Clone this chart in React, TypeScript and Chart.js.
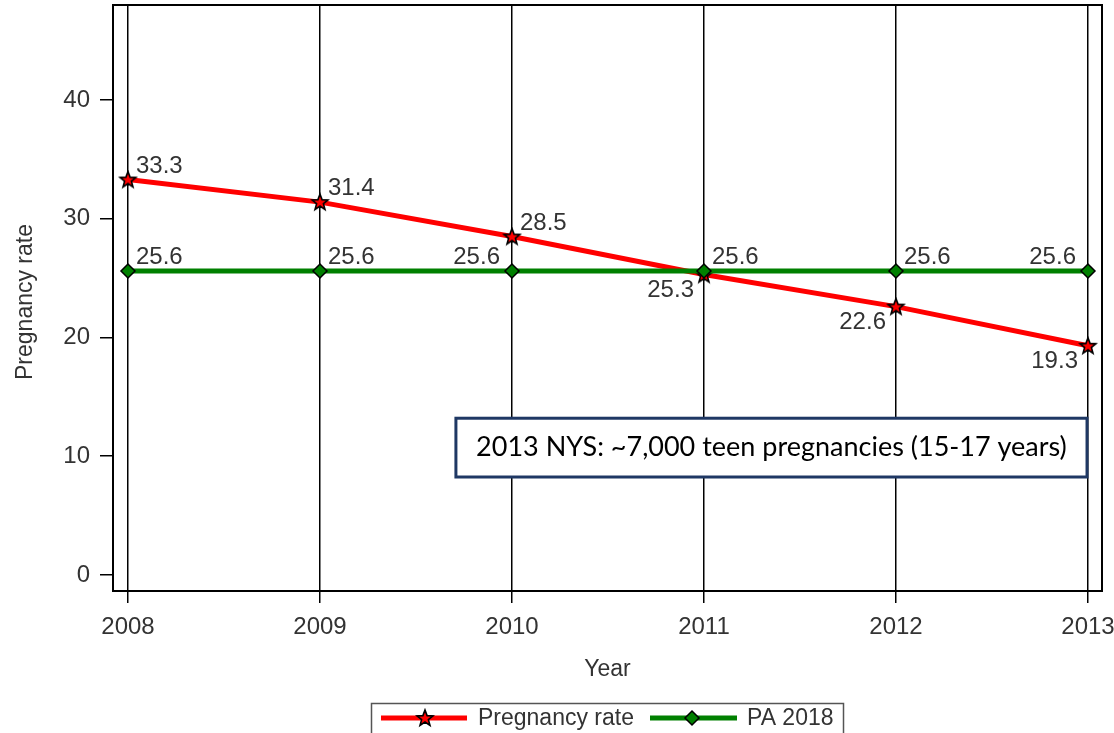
import React, { useEffect, useRef } from "react";
import { Chart, registerables } from "chart.js";

Chart.register(...registerables);

const years = [2008, 2009, 2010, 2011, 2012, 2013];
const pregnancyRate = [33.3, 31.4, 28.5, 25.3, 22.6, 19.3];
const pa2018 = [25.6, 25.6, 25.6, 25.6, 25.6, 25.6];
const yTicks = [0, 10, 20, 30, 40];
const seriesNames = ["Pregnancy rate", "PA 2018"];
const xTitle = "Year";
const yTitle = "Pregnancy rate";
const annotationText = "2013 NYS: ~7,000 teen pregnancies (15-17 years)";

// label anchor sides: ur = upper-right, ul = upper-left, ll = lower-left
const redLabelSide = ["ur", "ur", "ur", "ll", "ll", "ll"];
const greenLabelSide = ["ur", "ur", "ul", "ur", "ur", "ul"];

const RED = "#ff0000";
const GREEN = "#008000";
const FONT = "'Liberation Sans', Arial, sans-serif";
const TEXT = "#333333";
const NUM_SIZE = 24;
const WORD_SIZE = 23;

function makeStar(size: number, fill: string): HTMLCanvasElement {
  const c = document.createElement("canvas");
  c.width = size;
  c.height = size;
  const ctx = c.getContext("2d")!;
  const cx = size / 2, cy = size / 2 + 0.5;
  const R = size / 2 - 1.5, r = R * 0.42;
  ctx.beginPath();
  for (let i = 0; i < 10; i++) {
    const ang = -Math.PI / 2 + (i * Math.PI) / 5;
    const rad = i % 2 === 0 ? R : r;
    const x = cx + rad * Math.cos(ang), y = cy + rad * Math.sin(ang);
    if (i === 0) ctx.moveTo(x, y); else ctx.lineTo(x, y);
  }
  ctx.closePath();
  ctx.fillStyle = fill;
  ctx.fill();
  ctx.lineWidth = 1.6;
  ctx.strokeStyle = "#000";
  ctx.stroke();
  return c;
}

function drawDiamond(ctx: CanvasRenderingContext2D, x: number, y: number, r: number) {
  ctx.beginPath();
  ctx.moveTo(x, y - r);
  ctx.lineTo(x + r, y);
  ctx.lineTo(x, y + r);
  ctx.lineTo(x - r, y);
  ctx.closePath();
  ctx.fillStyle = GREEN;
  ctx.fill();
  ctx.lineWidth = 1.5;
  ctx.strokeStyle = "#000";
  ctx.stroke();
}

export default function App() {
  const ref = useRef<HTMLCanvasElement>(null);

  useEffect(() => {
    const star = makeStar(20, RED);

    const framePlugin = {
      id: "frame",
      beforeDatasetsDraw(chart: any) {
        const { ctx, chartArea: a } = chart;
        ctx.save();
        ctx.strokeStyle = "#000";
        ctx.lineWidth = 2;
        ctx.strokeRect(a.left, a.top, a.right - a.left, a.bottom - a.top);
        ctx.restore();
      },
    };

    const labelsPlugin = {
      id: "valueLabels",
      afterDatasetsDraw(chart: any) {
        const ctx = chart.ctx;
        ctx.save();
        ctx.font = `${NUM_SIZE}px ${FONT}`;
        ctx.fillStyle = TEXT;
        chart.data.datasets.forEach((ds: any, di: number) => {
          const meta = chart.getDatasetMeta(di);
          const sides = ds.label === seriesNames[0] ? redLabelSide : greenLabelSide;
          meta.data.forEach((pt: any, i: number) => {
            const v = ds.data[i].y;
            const txt = v.toFixed(1);
            const side = sides[i];
            ctx.textBaseline = "alphabetic";
            if (side === "ur") {
              ctx.textAlign = "left";
              ctx.fillText(txt, pt.x + 8, pt.y - 7);
            } else if (side === "ul") {
              ctx.textAlign = "right";
              ctx.fillText(txt, pt.x - 12, pt.y - 7);
            } else {
              ctx.textAlign = "right";
              ctx.fillText(txt, pt.x - 10, pt.y + 22);
            }
          });
        });
        ctx.restore();
      },
    };

    const extrasPlugin = {
      id: "extras",
      afterDraw(chart: any) {
        const { ctx, chartArea: a, scales } = chart;
        const xs = scales.x, ys = scales.y;
        ctx.save();
        // annotation box
        const bx1 = xs.getPixelForValue(2009.708);
        const bx2 = xs.getPixelForValue(2012.995);
        const by1 = ys.getPixelForValue(13.2);
        const by2 = ys.getPixelForValue(8.25);
        ctx.fillStyle = "#fff";
        ctx.fillRect(bx1, by1, bx2 - bx1, by2 - by1);
        ctx.strokeStyle = "#1f3864";
        ctx.lineWidth = 3;
        ctx.strokeRect(bx1, by1, bx2 - bx1, by2 - by1);
        ctx.fillStyle = "#000";
        ctx.font = `27px Lato, 'Open Sans', sans-serif`;
        ctx.textAlign = "center";
        ctx.textBaseline = "middle";
        ctx.fillText(annotationText, (bx1 + bx2) / 2, (by1 + by2) / 2);

        // axis titles
        ctx.fillStyle = TEXT;
        ctx.font = `${WORD_SIZE}px ${FONT}`;
        ctx.textAlign = "center";
        ctx.textBaseline = "middle";
        ctx.fillText(xTitle, (a.left + a.right) / 2, 670);
        ctx.save();
        ctx.translate(26, (a.top + a.bottom) / 2 + 4);
        ctx.rotate(-Math.PI / 2);
        ctx.fillText(yTitle, 0, 0);
        ctx.restore();

        // legend
        const ly = 718;
        ctx.strokeStyle = "#555";
        ctx.lineWidth = 1.5;
        ctx.strokeRect(371.5, 703.5, 472, 40);
        ctx.lineWidth = 5;
        ctx.strokeStyle = RED;
        ctx.beginPath();
        ctx.moveTo(381, ly);
        ctx.lineTo(467, ly);
        ctx.stroke();
        ctx.drawImage(star, 425 - 10, ly - 10);
        ctx.strokeStyle = GREEN;
        ctx.beginPath();
        ctx.moveTo(650, ly);
        ctx.lineTo(737, ly);
        ctx.stroke();
        drawDiamond(ctx, 692, ly, 7);
        ctx.fillStyle = TEXT;
        ctx.font = `${WORD_SIZE}px ${FONT}`;
        ctx.textAlign = "left";
        ctx.textBaseline = "middle";
        ctx.fillText(seriesNames[0], 478, ly + 1);
        ctx.fillText(seriesNames[1], 747, ly + 1);
        ctx.restore();
      },
    };

    const chart = new Chart(ref.current!, {
      type: "line",
      data: {
        datasets: [
          {
            label: seriesNames[1],
            data: years.map((x, i) => ({ x, y: pa2018[i] })),
            borderColor: GREEN,
            backgroundColor: GREEN,
            borderWidth: 5,
            pointStyle: "rectRot",
            pointRadius: 7,
            pointBackgroundColor: GREEN,
            pointBorderColor: "#000",
            pointBorderWidth: 1.5,
            tension: 0,
          },
          {
            label: seriesNames[0],
            data: years.map((x, i) => ({ x, y: pregnancyRate[i] })),
            borderColor: RED,
            backgroundColor: RED,
            borderWidth: 5,
            pointStyle: star as any,
            pointRadius: 10,
            tension: 0,
          },
        ],
      },
      options: {
        animation: false,
        responsive: false,
        layout: { autoPadding: false, padding: { top: 5, right: 12, left: 0, bottom: 0 } },
        plugins: { legend: { display: false }, tooltip: { enabled: false } },
        scales: {
          x: {
            type: "linear",
            min: 2007.922,
            max: 2013.073,
            afterBuildTicks: (s: any) => {
              s.ticks = years.map((v) => ({ value: v }));
            },
            afterFit: (s: any) => {
              s.height = 733 - 591;
              s.paddingLeft = 0;
              s.paddingRight = 0;
            },
            border: { display: false },
            grid: {
              color: "#000",
              lineWidth: 1.5,
              drawTicks: true,
              tickLength: 12,
            },
            ticks: {
              color: TEXT,
              font: { family: FONT, size: NUM_SIZE },
              padding: 10,
              callback: (v: any) => String(v),
              maxRotation: 0,
            },
          },
          y: {
            type: "linear",
            min: -1.35,
            max: 48,
            afterBuildTicks: (s: any) => {
              s.ticks = yTicks.map((v) => ({ value: v }));
            },
            afterFit: (s: any) => {
              s.width = 113;
              s.paddingTop = 0;
              s.paddingBottom = 0;
            },
            border: { display: false },
            grid: {
              color: "#000",
              lineWidth: 1.5,
              drawOnChartArea: false,
              drawTicks: true,
              tickLength: 13,
            },
            ticks: {
              color: TEXT,
              font: { family: FONT, size: NUM_SIZE },
              padding: 10,
              callback: (v: any) => String(v),
            },
          },
        },
      },
      plugins: [framePlugin, labelsPlugin, extrasPlugin],
    });
    return () => chart.destroy();
  }, []);

  return (
    <div style={{ position: "absolute", left: 0, top: 0, width: 1114, height: 733, background: "#fff" }}>
      <canvas ref={ref} width={1114} height={733} style={{ display: "block" }} />
    </div>
  );
}
